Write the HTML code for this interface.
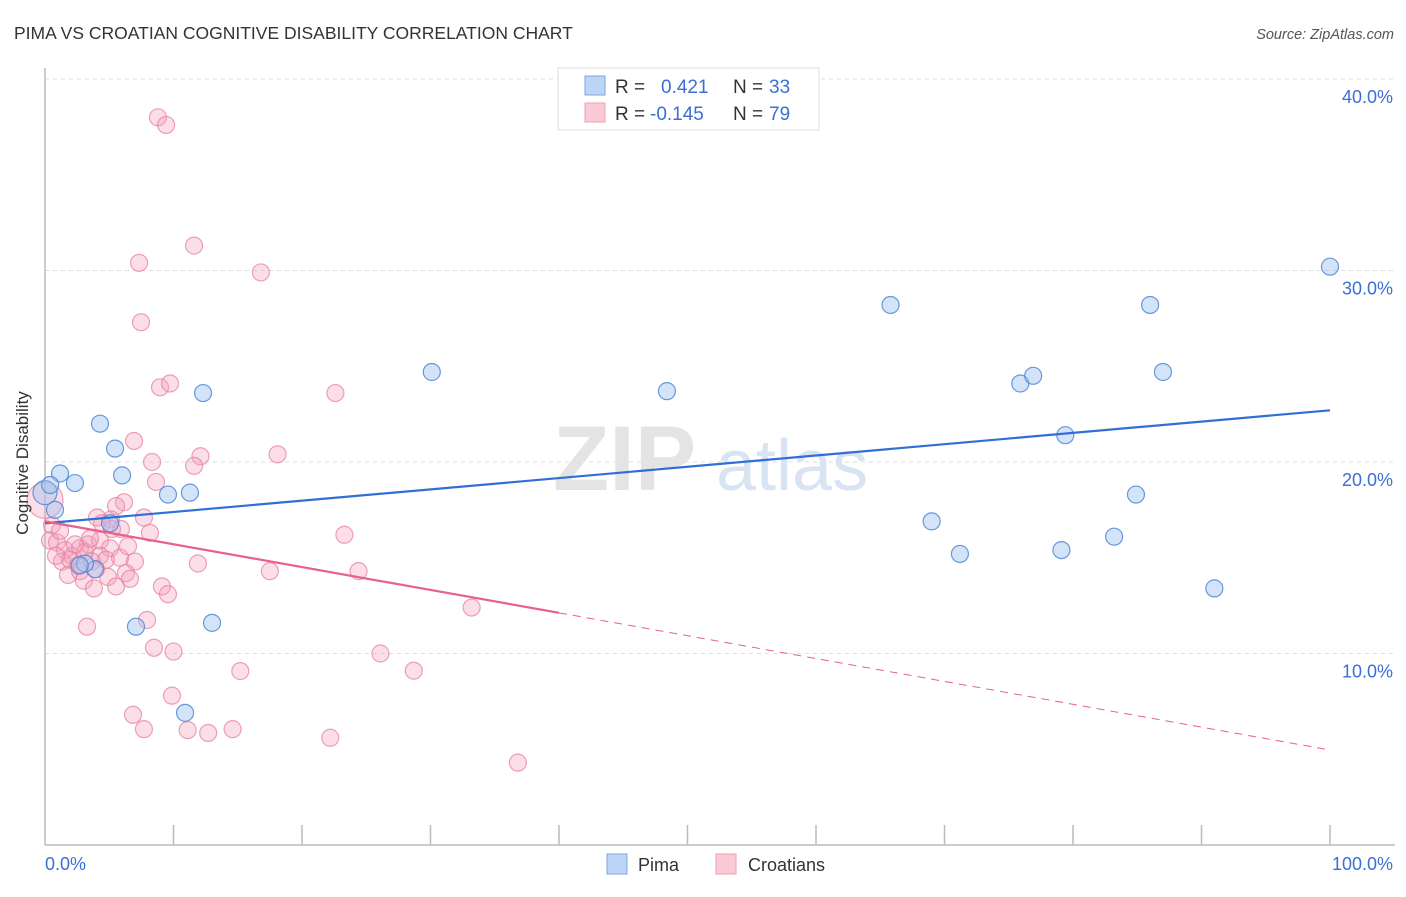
<!DOCTYPE html>
<html><head><meta charset="utf-8"><style>
body{margin:0;background:#fff;font-family:"Liberation Sans",sans-serif;}
svg text{font-family:"Liberation Sans",sans-serif;}
</style></head><body>
<svg width="1406" height="892" viewBox="0 0 1406 892">
<text x="14" y="39" font-size="17.5" fill="#333">PIMA VS CROATIAN COGNITIVE DISABILITY CORRELATION CHART</text>
<text x="1394" y="39" font-size="14.5" fill="#555" font-style="italic" text-anchor="end">Source: ZipAtlas.com</text>
<g id="grid"></g>
<g><text x="553" y="490" font-size="92" font-family="Liberation Serif" fill="#e4e4e4" font-weight="bold">ZIP</text><text x="716" y="490" font-size="72" fill="#d8e4f4">atlas</text></g>
<line x1="45" y1="68" x2="45" y2="845" stroke="#bbb" stroke-width="1.5"/>
<line x1="45" y1="845" x2="1395" y2="845" stroke="#bbb" stroke-width="1.5"/>
<g id="xticks"></g>
<g id="pink"></g>
<g id="blue"></g>
<g id="lines"></g>
<text x="20" y="455" font-size="17" fill="#333" text-anchor="middle" transform="rotate(-90 28 455)">Cognitive Disability</text>
<text x="45" y="870" font-size="18" fill="#3b6fd4">0.0%</text>
<text x="1393" y="870" font-size="18" fill="#3b6fd4" text-anchor="end">100.0%</text>
<g>
<rect x="558" y="68" width="261" height="62" fill="#fff" stroke="#ddd"/>
<rect x="585" y="76" width="20" height="19" fill="#bcd4f6" stroke="#7ea6e0"/>
<rect x="585" y="103" width="20" height="19" fill="#f9c9d6" stroke="#eba0b6"/>
<text x="615" y="93" font-size="19" fill="#333">R = </text><text x="661" y="93" font-size="19" fill="#3b6fd4">0.421</text>
<text x="733" y="93" font-size="19" fill="#333">N = </text><text x="769" y="93" font-size="19" fill="#3b6fd4">33</text>
<text x="615" y="120" font-size="19" fill="#333">R = </text><text x="650" y="120" font-size="19" fill="#3b6fd4">-0.145</text>
<text x="733" y="120" font-size="19" fill="#333">N = </text><text x="769" y="120" font-size="19" fill="#3b6fd4">79</text>
</g>
<g>
<rect x="607" y="854" width="20" height="20" fill="#bcd4f6" stroke="#7ea6e0"/>
<text x="638" y="871" font-size="18" fill="#333">Pima</text>
<rect x="716" y="854" width="20" height="20" fill="#f9c9d6" stroke="#eba0b6"/>
<text x="748" y="871" font-size="18" fill="#333">Croatians</text>
</g>
</svg>
<script>
const yTicks=[10,20,30,40];
const yTickLabels=["10.0%","20.0%","30.0%","40.0%"];
const pimaX=[0,1.17,2.33,0.78,4.28,5.45,6.0,5.06,3.89,3.11,7.08,9.57,11.28,12.3,13.0,10.9,30.1,48.4,65.8,69.0,71.2,75.9,76.9,79.1,79.4,83.2,84.9,86.0,87.0,91.0,100,0.4,2.7];
const pimaY=[18.4,19.4,18.9,17.5,22.0,20.7,19.3,16.8,14.4,14.7,11.4,18.3,18.4,23.6,11.6,6.9,24.7,23.7,28.2,16.9,15.2,24.1,24.5,15.4,21.4,16.1,18.3,28.2,24.7,13.4,30.2,18.8,14.6];
const croX=[8.79,9.42,11.6,7.32,16.8,7.47,8.95,9.73,22.6,6.93,18.1,12.1,8.33,11.6,8.64,6.15,5.53,5.14,7.7,4.05,5.91,8.17,23.3,0.54,0.39,0.93,1.56,2.72,3.35,4.28,5.06,2.1,3.11,4.28,1.32,1.95,2.57,3.66,4.75,5.84,7.0,1.79,2.72,3.97,4.9,6.3,6.61,3.03,3.81,5.53,9.1,9.57,11.9,17.5,24.4,33.2,7.94,3.27,8.48,10.0,15.2,26.1,28.7,9.88,6.85,7.7,11.1,12.7,14.6,22.2,36.8,0,1.17,2.33,4.44,5.21,0.86,3.5,6.46];
const croY=[38.0,37.6,31.3,30.4,29.9,27.3,23.9,24.1,23.6,21.1,20.4,20.3,20.0,19.8,18.96,17.9,17.7,17.0,17.1,17.1,16.5,16.3,16.2,16.7,15.9,15.8,15.4,15.5,15.7,15.9,15.5,15.1,15.3,15.1,14.8,14.9,14.6,14.8,14.9,15.0,14.8,14.1,14.3,14.4,14.0,14.2,13.9,13.8,13.4,13.5,13.5,13.1,14.7,14.3,14.3,12.4,11.75,11.4,10.3,10.1,9.08,10.0,9.1,7.8,6.8,6.05,6.0,5.85,6.05,5.6,4.3,18.0,16.4,15.7,16.8,16.5,15.1,16.0,15.6];
const pimaTrend=[16.8,22.7];   // y at x=0 and x=100
const croTrend=[16.9,4.96];    // y at x=0 and x=100
const croSolidEnd=40;
const X=v=>45+v*12.85, Y=v=>845-v*19.15;
const NS="http://www.w3.org/2000/svg";
function mk(tag,attrs,parent){const e=document.createElementNS(NS,tag);for(const k in attrs)e.setAttribute(k,attrs[k]);parent.appendChild(e);return e;}
const grid=document.getElementById('grid');
yTicks.forEach((t,i)=>{
 const l=mk('line',{x1:45,x2:1395,y1:Y(t),y2:Y(t),stroke:'#ddd','stroke-dasharray':'4,4'},grid);
 
 
 const tx=mk('text',{x:1393,y:Y(t)+24,'font-size':18,fill:'#3b6fd4','text-anchor':'end'},grid);
 tx.textContent=yTickLabels[i];
 
 
});
const xt=document.getElementById('xticks');
for(let i=1;i<=10;i++){
 const l=mk('line',{x1:X(i*10),x2:X(i*10),y1:825,y2:845,stroke:'#bbb','stroke-width':1.5},xt);
 
 
}
const pg=document.getElementById('pink');
croX.forEach((x,i)=>{
 const c=mk('circle',{cx:X(x),cy:Y(croY[i]),r:(x===0?18:8.5),fill:'rgba(244,160,188,0.35)',stroke:'rgba(232,130,160,0.75)','stroke-width':1.2},pg);
 
 
});
const bg=document.getElementById('blue');
pimaX.forEach((x,i)=>{
 const c=mk('circle',{cx:X(x),cy:Y(pimaY[i]),r:(x===0?12:8.5),fill:'rgba(160,196,240,0.45)',stroke:'rgba(80,135,215,0.85)','stroke-width':1.2},bg);
 
 
});
const lg=document.getElementById('lines');
const bl=mk('line',{x1:X(0),y1:Y(pimaTrend[0]),x2:X(100),y2:Y(pimaTrend[1]),stroke:'#2f6fd6','stroke-width':2.2},lg);


const cy=x=>croTrend[0]+(croTrend[1]-croTrend[0])*x/100;
const pl=mk('line',{x1:X(0),y1:Y(cy(0)),x2:X(croSolidEnd),y2:Y(cy(croSolidEnd)),stroke:'#e8608c','stroke-width':2.2},lg);


const pd=mk('line',{x1:X(croSolidEnd),y1:Y(cy(croSolidEnd)),x2:X(100),y2:Y(cy(100)),stroke:'#e8608c','stroke-width':1,'stroke-dasharray':'8,6'},lg);


</script>
</body></html>
